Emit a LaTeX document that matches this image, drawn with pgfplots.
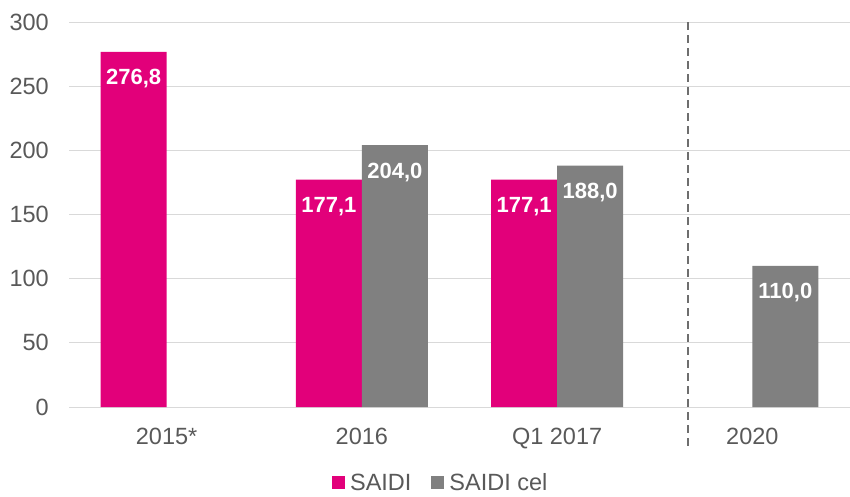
\documentclass[border=0pt]{standalone}
\usepackage{fontspec}
\setmainfont{Liberation Sans}
\usepackage{pgfplots}
\pgfplotsset{compat=1.18}
\definecolor{pinkc}{HTML}{E2007A}
\definecolor{grayc}{HTML}{808080}
\definecolor{txt}{HTML}{595959}
\definecolor{gridc}{HTML}{D9D9D9}
\definecolor{dashc}{HTML}{6E6E6E}
\begin{document}
\begin{tikzpicture}
\useasboundingbox (0,0) rectangle (850pt,496pt);
\begin{axis}[
 at={(69pt,89pt)}, anchor=south west,
 scale only axis, width=781pt, height=385pt,
 xmin=-0.5, xmax=3.5, ymin=0, ymax=300,
 ybar=0pt, bar width=66pt,
 xtick={0,1,2,3}, xticklabels={2015*,2016,Q1 2017,2020},
 ytick={0,50,...,300},
 axis lines*=left,
 x axis line style={draw=gridc, line width=1pt},
 y axis line style={draw=none},
 ymajorgrids, grid style={draw=gridc, line width=1pt},
 major tick length=0pt,
 tick label style={font=\fontsize{23.5}{28}\selectfont, text=txt, inner sep=0pt},
 yticklabel style={anchor=east, xshift=-20pt},
 xticklabel style={anchor=north, yshift=-21pt},
 /pgf/number format/assume math mode=true,
 clip=false,
 nodes near coords={\pgfmathprintnumber[fixed,fixed zerofill,precision=1,use comma,assume math mode=true]{\pgfplotspointmeta}},
 every node near coord/.append style={font=\bfseries\fontsize{22}{26}\selectfont, text=white, anchor=center, yshift=-27pt},
 legend style={at={(0.476,-0.197)}, anchor=center, draw=none, font=\fontsize{23.5}{28}\selectfont, text=txt, legend columns=2,
   /tikz/every even column/.append style={column sep=18pt},
   /tikz/every odd column/.append style={column sep=3pt}},
 legend image code/.code={\fill[#1,draw=none] (0pt,-6.5pt) rectangle (13pt,6.5pt);},
]
\addplot[fill=pinkc, draw=none] coordinates {(0,276.8) (1,177.1) (2,177.1)};
\addplot[fill=grayc, draw=none] coordinates {(1,204.0) (2,188.0) (3,110.0)};
\draw[dashc, line width=2pt, dash pattern=on 8pt off 5pt] (axis cs:2.67,300) -- (axis cs:2.67,-30.4);
\legend{SAIDI, SAIDI cel}
\end{axis}
\end{tikzpicture}
\end{document}
